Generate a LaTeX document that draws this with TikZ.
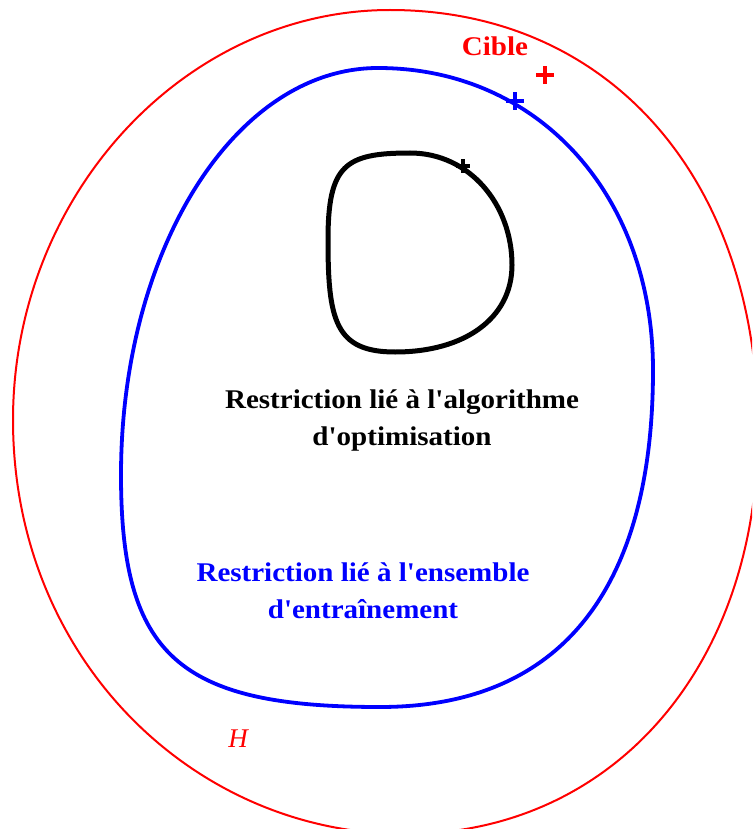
\documentclass[tikz,border=0pt]{standalone}
\usepackage{fontspec}
\setmainfont{Liberation Serif}
\newcommand{\wide}[1]{\scalebox{1.075}[1]{#1}}
\begin{document}
\begin{tikzpicture}[x=1pt,y=-1pt,
  lbl/.style={font=\fontsize{27}{37}\selectfont\bfseries, align=center, inner sep=0pt}]
\path[use as bounding box] (0,0) rectangle (752,829);
\clip (0,0) rectangle (752,829);
% outer red curve H
\draw[red, line width=2pt]
  (390,10) .. controls (610,10) and (758,180) .. (758,430)
  .. controls (758,670) and (610,834) .. (405,834)
  .. controls (195,834) and (13,660) .. (13,420)
  .. controls (13,195) and (185,10) .. (390,10) -- cycle;
% blue curve
\draw[blue, line width=3.8pt]
  (378,68) .. controls (538,68) and (653,195) .. (653,370)
  .. controls (653,590) and (560,707) .. (380,707)
  .. controls (178,707) and (121,655) .. (121,475)
  .. controls (121,250) and (235,68) .. (378,68) -- cycle;
% black curve
\draw[black, line width=5pt]
  (410,153) .. controls (470,153) and (512,205) .. (512,265)
  .. controls (512,318) and (465,352) .. (395,352)
  .. controls (335,352) and (328,320) .. (328,240)
  .. controls (328,165) and (345,153) .. (410,153) -- cycle;
% crosses
\coordinate (rc) at (545,75);
\coordinate (bc) at (515,101);
\coordinate (kc) at (463,166);
\draw[red, line width=4pt] ([xshift=-9pt]rc) -- ([xshift=9pt]rc) ([yshift=-9pt]rc) -- ([yshift=9pt]rc);
\draw[blue, line width=4pt] ([xshift=-9pt]bc) -- ([xshift=9pt]bc) ([yshift=-9pt]bc) -- ([yshift=9pt]bc);
\draw[black, line width=3.5pt] ([xshift=-7pt]kc) -- ([xshift=7pt]kc) ([yshift=-7pt]kc) -- ([yshift=7pt]kc);
% labels
\node[lbl, red, anchor=base] (cible) at (495,56) {\wide{Cible}};
\node[lbl, black, anchor=base] (alg) at (402,445) {\wide{Restriction lié à l\textquotesingle algorithme}\\\wide{d\textquotesingle optimisation}};
\node[lbl, blue, anchor=base] (ens) at (363,618) {\wide{Restriction lié à l\textquotesingle ensemble}\\\wide{d\textquotesingle entraînement}};
\node[red, anchor=base, inner sep=0pt, font=\fontsize{27}{32}\selectfont\itshape] (H) at (238,747) {H};
\end{tikzpicture}
\end{document}
